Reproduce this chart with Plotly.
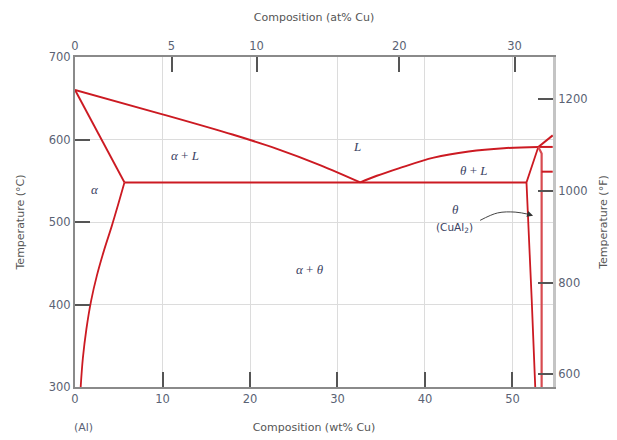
import plotly.graph_objects as go

# ---------------- data (wt% Cu, temperature °C) ----------------
liq_al_wt = [0, 10, 18, 23, 28, 32.6]
liq_al_T = [660, 630.5, 606, 589, 569, 548]

solidus_a_wt = [0, 5.65]
solidus_a_T = [660, 548]

solvus_a_wt = [5.65, 4.9, 4.2, 3.3, 2.5, 1.85, 1.3, 0.9, 0.65]
solvus_a_T = [548, 520, 495, 465, 435, 405, 370, 335, 300]

eutectic_wt = [5.65, 51.6]
eutectic_T = [548, 548]

liq_theta_wt = [32.6, 34.5, 37, 41, 45, 49, 52.95]
liq_theta_T = [548, 556, 565, 578, 585.5, 589.5, 591]

liq_upper_wt = [52.95, 54.6]
liq_upper_T = [591, 605]

peritectic_wt = [52.95, 54.6]
peritectic_T = [591, 591]

theta_left_wt = [52.95, 51.6, 52.2, 52.6]
theta_left_T = [591, 548, 405, 300]

theta_right_wt = [52.95, 53.33, 53.33]
theta_right_T = [591, 583, 300]

cu_side_wt = [53.33, 54.6]
cu_side_T = [561, 561]

arrow_wt = [46.3, 48.3, 50.3, 52.0]
arrow_T = [502, 511, 512, 509]

at_ticks = [0, 5, 10, 20, 30]
wt_ticks = [10, 20, 30, 40, 50]
c_ticks = [300, 400, 500, 600, 700]
f_ticks = [600, 800, 1000, 1200]

labels = [
    ("<i>α</i> + <i>L</i>", 12.6, 581, 13),
    ("<i>L</i>", 32.2, 591, 13),
    ("<i>θ</i> + <i>L</i>", 45.6, 563, 13),
    ("<i>α</i>", 2.3, 540, 13),
    ("<i>α</i> + <i>θ</i>", 26.9, 442, 13),
    ("<i>θ</i>", 43.5, 515, 13),
]

X_MAX = 54.63
T_MIN, T_MAX = 300, 700


def at_to_wt(a):
    return 100 * a * 63.55 / (a * 63.55 + (100 - a) * 26.98)


def c_to_f(c):
    return c * 9 / 5 + 32


RED = "#cc1a22"
AX = "#8a8a8a"
TXT = "#5a6274"
LBL = "#3a4262"

fig = go.Figure()


def add_line(xs, ys, width=2.0, color=RED, shape="linear"):
    fig.add_trace(go.Scatter(x=xs, y=ys, mode="lines",
                             line=dict(color=color, width=width, shape=shape),
                             hoverinfo="skip", showlegend=False))


add_line(liq_al_wt, liq_al_T, shape="spline")
add_line(solidus_a_wt, solidus_a_T)
add_line(solvus_a_wt, solvus_a_T, 1.8, shape="spline")
add_line(eutectic_wt, eutectic_T)
add_line(liq_theta_wt, liq_theta_T, shape="spline")
add_line(liq_upper_wt, liq_upper_T)
add_line(peritectic_wt, peritectic_T)
add_line(theta_left_wt, theta_left_T, 1.8)
add_line(theta_right_wt, theta_right_T, 2.2, "#d84a50")
add_line(cu_side_wt, cu_side_T)

# curved pointer line
fig.add_trace(go.Scatter(x=arrow_wt, y=arrow_T, mode="lines",
                         line=dict(color="#444", width=1, shape="spline"),
                         hoverinfo="skip", showlegend=False))

# dummy trace for secondary axes
fig.add_trace(go.Scatter(x=[None], y=[None], xaxis="x2", yaxis="y2",
                         showlegend=False, hoverinfo="skip"))

for text, x, y, s in labels:
    fig.add_annotation(x=x, y=y, text=text, showarrow=False,
                       font=dict(family="Liberation Serif", size=s, color=LBL))

fig.add_annotation(x=43.4, y=492.5, text="(CuAl<sub>2</sub>)", showarrow=False,
                   font=dict(family="DejaVu Sans", size=10.5, color=LBL))

fig.add_annotation(x=arrow_wt[-1] + 0.35, y=arrow_T[-1] - 1.5,
                   ax=arrow_wt[-1] - 0.2, ay=arrow_T[-1] + 0.5,
                   xref="x", yref="y", axref="x", ayref="y",
                   text=" ", showarrow=True, arrowhead=2, arrowsize=1.2,
                   arrowwidth=1, arrowcolor="#333")

fig.add_annotation(x=-0.007, y=-0.149, xref="paper", yref="paper", text="(Al)",
                   showarrow=False, font=dict(family="DejaVu Sans", size=11, color=TXT))

tickfont = dict(family="DejaVu Sans", size=11.5, color=TXT)
titlefont = dict(family="DejaVu Sans", size=11, color="#555")

# page body adds an 8px offset, margins compensate for it
fig.update_layout(
    width=617, height=440,
    margin=dict(l=67, r=72, t=49, b=61, autoexpand=False),
    plot_bgcolor="white", paper_bgcolor="white",
    xaxis=dict(range=[0, X_MAX], tickvals=[0] + wt_ticks,
               ticktext=[str(v) for v in [0] + wt_ticks],
               ticks="inside", ticklen=15, tickwidth=1.5, tickcolor="#555",
               showline=True, linecolor=AX, linewidth=2,
               showgrid=True, gridcolor="#dcdcdc", gridwidth=1,
               zeroline=False, tickfont=tickfont, automargin=False,
               title=dict(text="Composition (wt% Cu)", font=titlefont, standoff=19)),
    xaxis2=dict(range=[0, X_MAX], overlaying="x", side="top",
                tickvals=[at_to_wt(a) for a in at_ticks],
                ticktext=[str(a) for a in at_ticks],
                ticks="inside", ticklen=15, tickwidth=1.5, tickcolor="#555",
                showline=True, linecolor=AX, linewidth=2,
                showgrid=False, zeroline=False, tickfont=tickfont, automargin=False,
                title=dict(text="Composition (at% Cu)", font=titlefont, standoff=16)),
    yaxis=dict(range=[T_MIN, T_MAX], tickvals=c_ticks,
               ticks="inside", ticklen=15, tickwidth=1.5, tickcolor="#555",
               showline=True, linecolor=AX, linewidth=2,
               showgrid=True, gridcolor="#dcdcdc", gridwidth=1,
               zeroline=False, tickfont=tickfont, automargin=False,
               title=dict(text="Temperature (°C)", font=titlefont, standoff=22)),
    yaxis2=dict(range=[c_to_f(T_MIN), c_to_f(T_MAX)], overlaying="y", side="right",
                tickvals=f_ticks,
                ticks="inside", ticklen=15, tickwidth=1.5, tickcolor="#555",
                showline=True, linecolor="#c4c4c4", linewidth=3,
                showgrid=False, zeroline=False, tickfont=tickfont, automargin=False,
                title=dict(text="Temperature (°F)", font=titlefont, standoff=13)),
)

fig.write_html("out.html")
